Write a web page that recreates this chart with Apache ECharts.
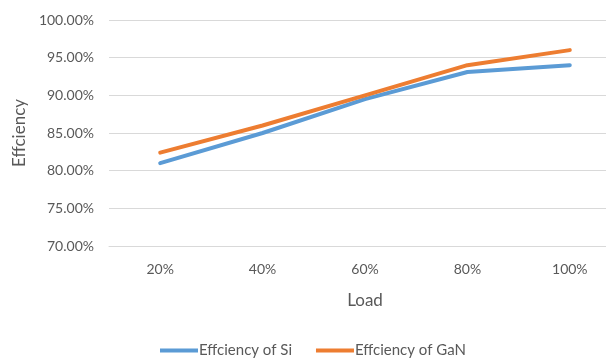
<!DOCTYPE html>
<html>
<head>
<meta charset="utf-8">
<script src="https://cdn.jsdelivr.net/npm/echarts@6/dist/echarts.min.js"></script>
<style>
  html, body { margin: 0; padding: 0; background: #fff; }
  #chart { width: 606px; height: 362px; }
</style>
</head>
<body>
<div id="chart"></div>
<script>
// Load levels on the x axis
const loads = ['20%', '40%', '60%', '80%', '100%'];
// Efficiency (%) per load level
const siEfficiency = [81.0, 85.0, 89.5, 93.1, 94.0];
const ganEfficiency = [82.4, 86.0, 90.0, 94.0, 96.0];
const seriesNames = ['Effciency of Si', 'Effciency of GaN'];

const FONT = 'Lato';
const TEXT = '#595959';

const chart = echarts.init(document.getElementById('chart'), null, { renderer: 'canvas' });
chart.setOption({
  animation: false,
  backgroundColor: '#ffffff',
  grid: {
    left: 109, top: 20, width: 512, height: 226,
    containLabel: false,
    outerBoundsMode: 'none'
  },
  xAxis: {
    type: 'category',
    data: loads,
    boundaryGap: true,
    name: 'Load',
    nameLocation: 'middle',
    nameGap: 46,
    nameTextStyle: { color: TEXT, fontFamily: FONT, fontSize: 17 },
    axisLine: { show: true, lineStyle: { color: '#d9d9d9', width: 1 } },
    axisTick: { show: false },
    axisLabel: { color: TEXT, fontFamily: FONT, fontSize: 14, margin: 16 }
  },
  yAxis: {
    type: 'value',
    min: 70,
    max: 100,
    interval: 5,
    name: 'Effciency',
    nameLocation: 'middle',
    nameGap: 80,
    nameRotate: 90,
    nameTextStyle: { color: TEXT, fontFamily: FONT, fontSize: 17 },
    axisLine: { show: false },
    axisTick: { show: false },
    axisLabel: {
      color: TEXT, fontFamily: FONT, fontSize: 14, margin: 15,
      formatter: v => v.toFixed(2) + '%'
    },
    splitLine: { lineStyle: { color: '#d9d9d9', width: 1 } }
  },
  legend: {
    top: 343,
    left: 160,
    padding: 0,
    itemWidth: 38,
    itemHeight: 4,
    itemGap: 24,
    icon: 'rect',
    textStyle: { color: TEXT, fontFamily: FONT, fontSize: 15, padding: [0, 0, 0, -4] },
    data: seriesNames
  },
  series: [
    {
      name: seriesNames[0],
      type: 'line',
      data: siEfficiency,
      symbol: 'none',
      color: '#5b9bd5',
      lineStyle: { width: 4, color: '#5b9bd5', cap: 'round' }
    },
    {
      name: seriesNames[1],
      type: 'line',
      data: ganEfficiency,
      symbol: 'none',
      color: '#ed7d31',
      lineStyle: { width: 4, color: '#ed7d31', cap: 'round' }
    }
  ]
});
</script>
</body>
</html>
